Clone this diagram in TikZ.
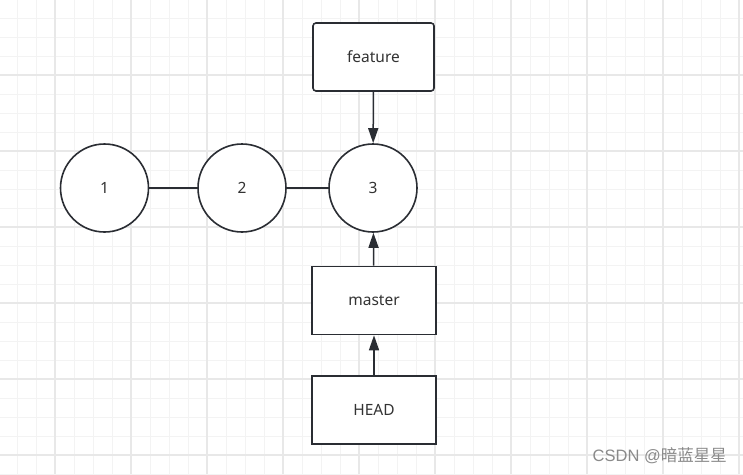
\documentclass[tikz,border=0pt]{standalone}
\usepackage{fontspec}
\setmainfont{Noto Sans}
\newfontfamily\cjk{Noto Sans CJK SC}
\newfontfamily\wmfont{Liberation Sans}
\usetikzlibrary{arrows.meta}
\definecolor{ink}{HTML}{2A2D33}
\definecolor{txt}{HTML}{333333}
\definecolor{gridminor}{HTML}{F3F3F3}
\definecolor{gridmajor}{HTML}{E8E8E8}
\definecolor{wm}{HTML}{8A8A8A}
\begin{document}
\begin{tikzpicture}[x=1pt,y=-1pt,
  commit/.style={circle, draw=ink, line width=1.6pt, fill=white, minimum size=88pt, inner sep=0pt, text=txt, font=\fontsize{15.5}{18}\selectfont},
  refbox/.style={rectangle, draw=ink, line width=1.6pt, fill=white, minimum width=124pt, minimum height=68pt, inner sep=0pt, text=txt, font=\fontsize{15.5}{18}\selectfont},
  link/.style={draw=ink, line width=1.5pt},
  pointer/.style={draw=ink, line width=1.5pt, -{Triangle[length=15pt,width=10pt]}}
]
\useasboundingbox (0,0) rectangle (743,474);
\fill[white] (0,0) rectangle (743,474);
% minor grid
\foreach \i in {0,...,39} {
  \draw[gridminor, line width=1pt] ({-2+19*\i},0) -- ({-2+19*\i},474);
}
\foreach \j in {0,...,25} {
  \draw[gridminor, line width=1pt] (0,{-1+19*\j}) -- (743,{-1+19*\j});
}
% major grid
\foreach \i in {0,...,9} {
  \draw[gridmajor, line width=1.4pt] ({55+76*\i},0) -- ({55+76*\i},474);
}
\foreach \j in {0,...,5} {
  \draw[gridmajor, line width=1.4pt] (0,{75+76*\j}) -- (743,{75+76*\j});
}

\node[commit] (c1) at (104.5,188) {1};
\node[commit] (c2) at (242,188) {2};
\node[commit] (c3) at (373,188) {3};
\node[refbox, rounded corners=3pt, minimum width=121pt] (feature) at (373.5,57) {feature};
\node[refbox] (master) at (374,300.5) {master};
\node[refbox] (head) at (374,410) {HEAD};

\draw[link] (c1) -- (c2);
\draw[link] (c2) -- (c3);
\draw[pointer] (feature) -- (c3);
\draw[pointer] (master) -- (c3);
\draw[pointer] (head) -- (master);

\node[text=wm, font=\wmfont\fontsize{16.5}{18}\selectfont, anchor=east, inner sep=0pt] (wmark) at (727,456) {CSDN @{\cjk 暗蓝星星}};
\end{tikzpicture}
\end{document}
